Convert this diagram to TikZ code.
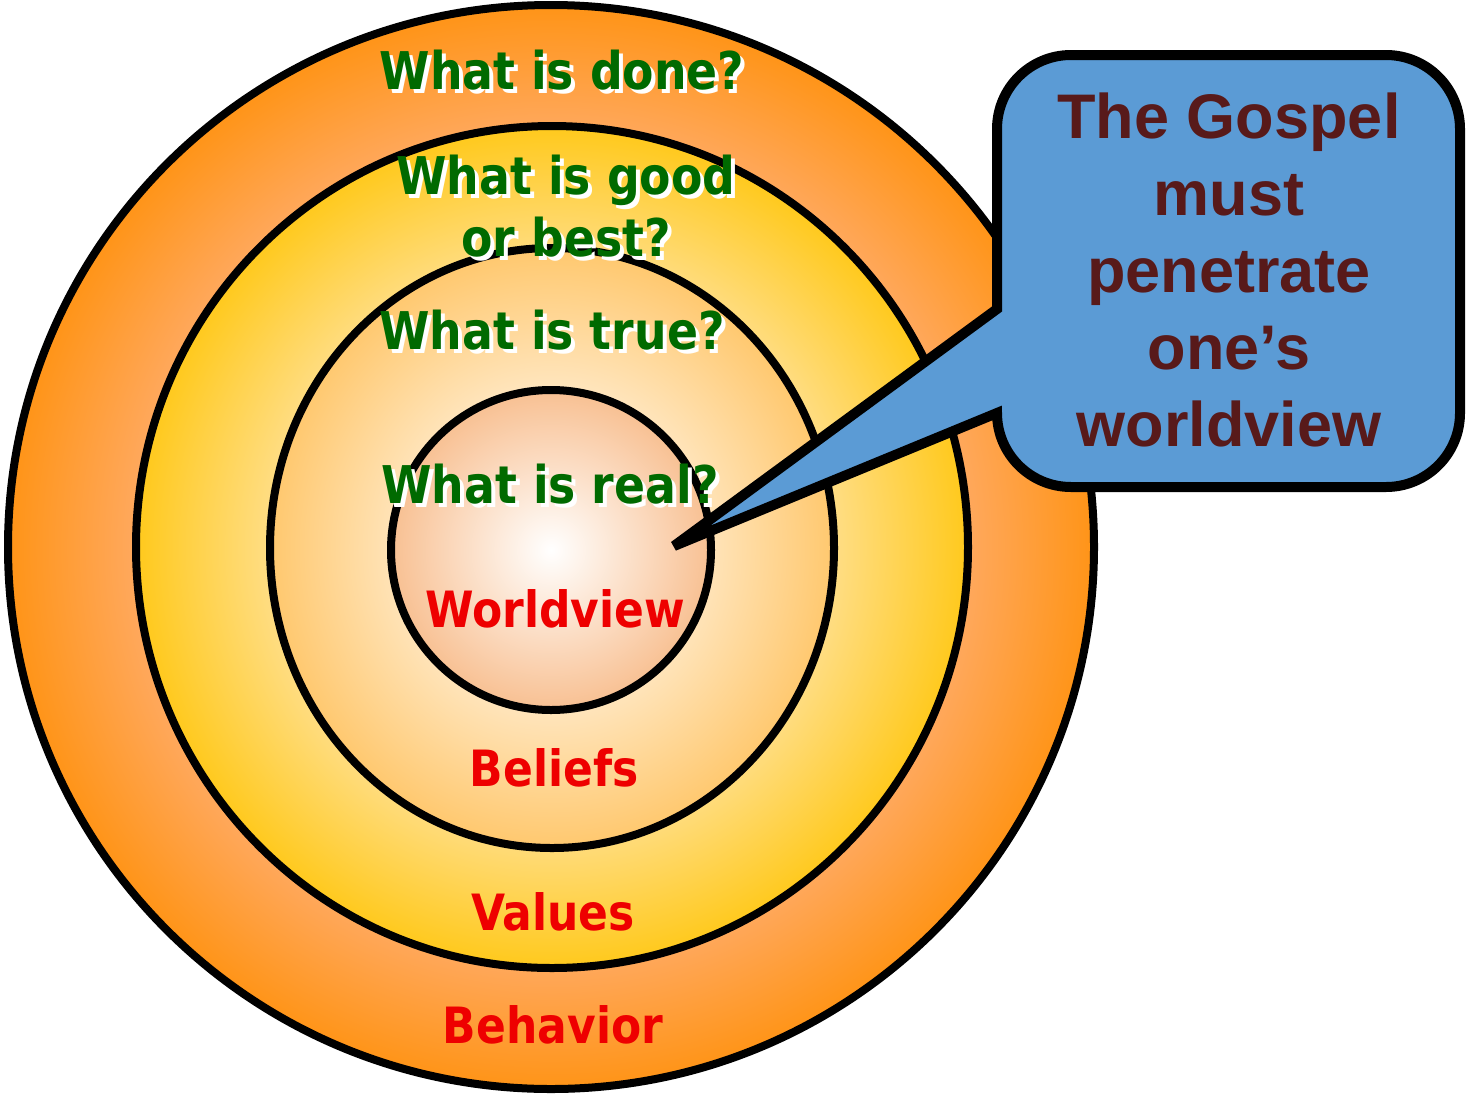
\documentclass[tikz,border=0pt]{standalone}
\usepackage{fontspec}
\setmainfont{Liberation Sans}
\newfontfamily\comicfont{DejaVu Sans}[FakeStretch=0.88]
\definecolor{qgreen}{HTML}{006A00}
\definecolor{lred}{HTML}{EE0000}
\definecolor{gospel}{HTML}{581A1A}
\definecolor{calloutblue}{HTML}{5B9BD5}
\definecolor{oA}{HTML}{FFB272}
\definecolor{oB}{HTML}{FFA95F}
\definecolor{oC}{HTML}{FF9417}
\definecolor{yA}{HTML}{FFE6AA}
\definecolor{yB}{HTML}{FFDE88}
\definecolor{yC}{HTML}{FFC91C}
\definecolor{bA}{HTML}{FFFFFF}
\definecolor{bB}{HTML}{FFE4BA}
\definecolor{bC}{HTML}{FFC86E}
\definecolor{iA}{HTML}{FFFFFF}
\definecolor{iB}{HTML}{F8C092}
\pgfdeclareradialshading{ringouter}{\pgfpoint{0bp}{0bp}}{color(0bp)=(oA); color(19bp)=(oB); color(25bp)=(oC); color(50bp)=(oC)}
\pgfdeclareradialshading{ringvalues}{\pgfpoint{0bp}{0bp}}{color(0bp)=(yA); color(16.7bp)=(yB); color(25bp)=(yC); color(50bp)=(yC)}
\pgfdeclareradialshading{ringbeliefs}{\pgfpoint{0bp}{0bp}}{color(0bp)=(bA); color(13.8bp)=(bB); color(25bp)=(bC); color(50bp)=(bC)}
\pgfdeclareradialshading{ringcore}{\pgfpoint{0bp}{0bp}}{color(0bp)=(iA); color(25bp)=(iB); color(50bp)=(iB)}
\newcommand\shtext[1]{\makebox[0pt][l]{\hspace{4pt}\raisebox{-4pt}{\color{white}#1}}{\color{qgreen}#1}}
\tikzset{
  ring/.style={draw=black, line width=8pt},
  question/.style={font=\comicfont\bfseries\fontsize{52}{62}\selectfont, inner sep=0pt, align=center},
  layer/.style={font=\comicfont\bfseries\fontsize{50}{56}\selectfont, text=lred, inner sep=0pt},
  callout/.style={draw=black, fill=calloutblue, line width=10pt, miter limit=4},
  gospeltext/.style={font=\bfseries\fontsize{63}{77}\selectfont, text=gospel, align=center, inner sep=0pt}
}
\begin{document}
\begin{tikzpicture}[x=1pt, y=-1pt]
\useasboundingbox (0,0) rectangle (1466,1095);
% circles
\path[ring, shading=ringouter] (551,547) ellipse [x radius=543pt, y radius=542pt];
\path[ring, shading=ringvalues] (552,547) ellipse [x radius=416pt, y radius=421pt];
\path[ring, shading=ringbeliefs] (552,548) ellipse [x radius=282pt, y radius=300pt];
\path[ring, shading=ringcore] (551,550) circle [radius=160pt];
% questions
\node[question] (done) at (562,72) {\shtext{What is done?}};
\node[question] (good) at (566,208) {\shtext{What is good}\\\shtext{or best?}};
\node[question] (true) at (552,332) {\shtext{What is true?}};
\node[question] (real) at (550,486) {\shtext{What is real?}};
% layers
\node[layer] (worldview) at (555,609) {Worldview};
\node[layer] (beliefs) at (554,768) {Beliefs};
\node[layer] (values) at (553,912) {Values};
\node[layer] (behavior) at (553,1025) {Behavior};
% callout
\coordinate (tip) at (674,546);
\draw[callout] (997,309) -- (tip) -- (997,413)
  arc[start angle=180, end angle=270, radius=74pt] -- (1386,487)
  arc[start angle=270, end angle=360, radius=74pt] -- (1460,129)
  arc[start angle=0, end angle=90, radius=74pt] -- (1071,55)
  arc[start angle=90, end angle=180, radius=74pt] -- cycle;
\node[gospeltext] (gospel) at (1229,270) {The Gospel\\must\\penetrate\\one’s\\worldview};
\end{tikzpicture}
\end{document}
